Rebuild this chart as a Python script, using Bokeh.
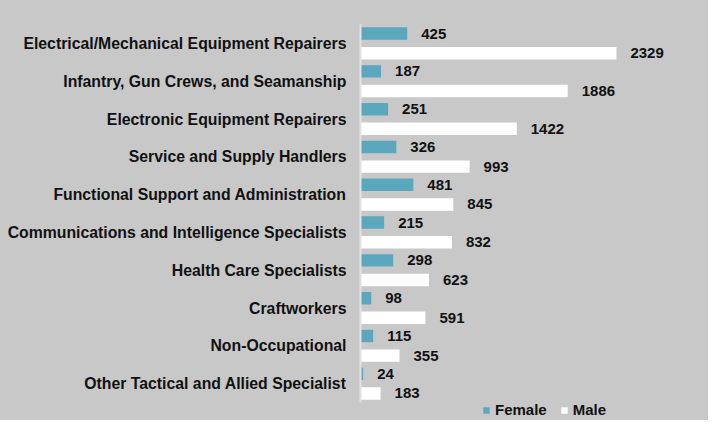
from bokeh.plotting import figure
from bokeh.models import ColumnDataSource, Range1d, Legend, LegendItem, FixedTicker
from bokeh.transform import dodge
from bokeh.core.properties import value
from bokeh.embed import file_html
from bokeh.resources import INLINE

categories = [
    "Electrical/Mechanical Equipment Repairers",
    "Infantry, Gun Crews, and Seamanship",
    "Electronic Equipment Repairers",
    "Service and Supply Handlers",
    "Functional Support and Administration",
    "Communications and Intelligence Specialists",
    "Health Care Specialists",
    "Craftworkers",
    "Non-Occupational",
    "Other Tactical and Allied Specialist",
]
female = [425, 187, 251, 326, 481, 215, 298, 98, 115, 24]
male = [2329, 1886, 1422, 993, 845, 832, 623, 591, 355, 183]
series_names = ["Female", "Male"]
series_colors = ["#5ba8be", "white"]

FONT = "Liberation Sans"
BG = "#c8c8c8"
TXT = "#111111"

n = len(categories)
pos = [n - 1 - i for i in range(n)]  # first category at the top

src = ColumnDataSource(dict(
    pos=pos,
    cat=categories,
    female=female,
    male=male,
    female_txt=[str(v) for v in female],
    male_txt=[str(v) for v in male],
))

TOP = 24
UNIT = 37.8
H_FIG = 420
y_top = n - 0.5
y_bottom = y_top - (H_FIG - TOP) / UNIT

p = figure(
    width=708, height=H_FIG,
    y_range=Range1d(y_bottom, y_top),
    x_range=Range1d(0, 3094),
    output_backend="svg", toolbar_location=None,
    min_border_left=360, min_border_right=8,
    min_border_top=TOP, min_border_bottom=0,
)
p.styles = {"background-color": BG}
p.background_fill_color = BG
p.border_fill_color = BG
p.outline_line_color = None
p.xgrid.visible = False
p.ygrid.visible = False
p.xaxis.visible = False

yax = p.yaxis[0]
yax.ticker = FixedTicker(ticks=pos)
yax.major_label_overrides = {pp: c for pp, c in zip(pos, categories)}
yax.bounds = (-0.5, n - 0.5)
yax.axis_line_color = "#e2e2e2"
yax.axis_line_width = 2
yax.major_tick_line_color = None
yax.minor_tick_line_color = None
yax.major_tick_out = 0
yax.major_tick_in = 0
yax.major_label_standoff = 14
yax.major_label_text_font = FONT
yax.major_label_text_font_style = "bold"
yax.major_label_text_font_size = "15.8px"
yax.major_label_text_color = TXT

OFF = 0.26
H = 0.33
rf = p.hbar(y=dodge("pos", OFF), left=0, right="female", height=H,
            source=src, fill_color=series_colors[0], line_color=None)
rm = p.hbar(y=dodge("pos", -OFF), left=0, right="male", height=H,
            source=src, fill_color=series_colors[1], line_color=None)

p.text(x="female", y=dodge("pos", OFF), text="female_txt", source=src,
       x_offset=14, text_baseline="middle", text_align="left",
       text_font=value(FONT), text_font_style="bold", text_font_size="15px", text_color=TXT)
p.text(x="male", y=dodge("pos", -OFF), text="male_txt", source=src,
       x_offset=14, text_baseline="middle", text_align="left",
       text_font=value(FONT), text_font_style="bold", text_font_size="15px", text_color=TXT)

lg = Legend(items=[LegendItem(label=series_names[0], renderers=[rf]),
                   LegendItem(label=series_names[1], renderers=[rm])])
lg.orientation = "horizontal"
lg.location = (122, 2)
lg.glyph_width = 8
lg.glyph_height = 8
lg.label_height = 16
lg.label_standoff = 5
lg.spacing = 13
lg.padding = 0
lg.margin = 0
lg.label_text_font = FONT
lg.label_text_font_style = "bold"
lg.label_text_font_size = "15px"
lg.label_text_color = TXT
lg.background_fill_alpha = 0
lg.border_line_color = None
p.add_layout(lg, "center")

open("out.html", "w").write(file_html(p, INLINE))
